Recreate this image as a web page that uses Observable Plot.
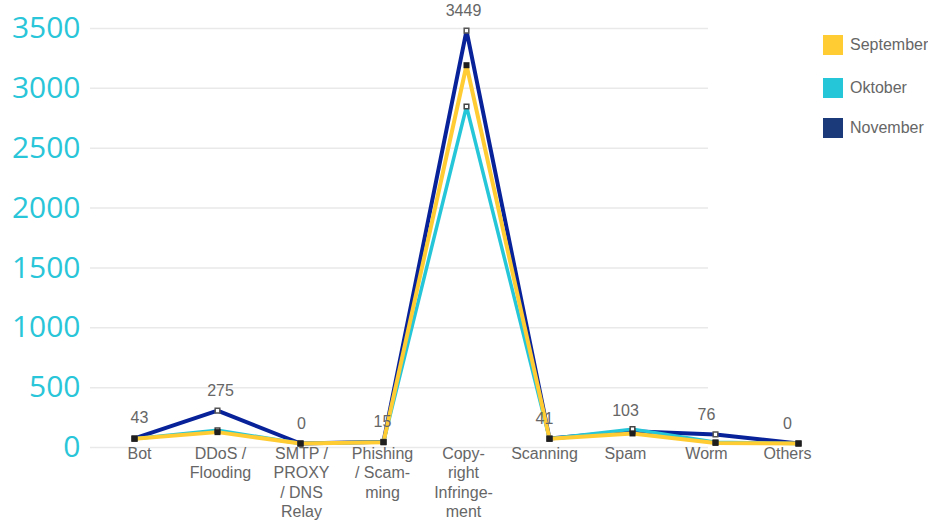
<!DOCTYPE html>
<html>
<head>
<meta charset="utf-8">
<script src="https://cdn.jsdelivr.net/npm/d3@7"></script>
<script src="https://cdn.jsdelivr.net/npm/@observablehq/plot@0.6"></script>
<style>
  html, body { margin: 0; padding: 0; background: #fff; }
  #wrap { position: relative; width: 928px; height: 520px; overflow: hidden; }
  #wrap svg { position: absolute; left: 0; top: 0; background: transparent; }
  #legend { position: absolute; left: 823px; top: 35px; font-family: "Liberation Sans", Arial, sans-serif; font-size: 16px; color: #666; }
  .item { position: absolute; left: 0; display: flex; align-items: center; white-space: nowrap; }
  .sw { width: 20px; height: 20px; margin-right: 7px; }
</style>
</head>
<body>
<div id="wrap"></div>
<script>
const categories = ["Bot", "DDoS /\nFlooding", "SMTP /\nPROXY\n/ DNS\nRelay", "Phishing\n/ Scam-\nming", "Copy-\nright\nInfringe-\nment", "Scanning", "Spam", "Worm", "Others"];
const series = ["September", "Oktober", "November"];
const september = [40, 95, 0, 10, 3160, 40, 84, 5, 0];
const oktober = [40, 110, 0, 12, 2815, 40, 120, 10, 0];
const november = [43, 275, 0, 15, 3449, 41, 103, 76, 0];
const novemberLabels = ["43", "275", "0", "15", "3449", "41", "103", "76", "0"];
const yTicks = [0, 500, 1000, 1500, 2000, 2500, 3000, 3500];
const lineColors = ["#FFCC33", "#26C6D9", "#08229A"];
const legendColors = ["#FFCC33", "#26C6D9", "#1B3A7A"];

const valuesBySeries = {September: september, Oktober: oktober, November: november};
const rows = series.flatMap(s => categories.map((c, i) => ({series: s, cat: c, value: valuesBySeries[s][i], label: s === "November" ? novemberLabels[i] : ""})));
const rowsOf = s => rows.filter(d => d.series === s);

const H = 520, MT = 28, MB = 73;
const yOpts = {domain: [0, 3500], range: [H - MB, MT]};
const font = "'Liberation Sans', Arial, sans-serif";

// grid layer (grid stops before the legend)
const grid = Plot.plot({
  width: 708, height: H,
  marginLeft: 90, marginRight: 0, marginTop: MT, marginBottom: MB,
  x: {axis: null},
  y: {...yOpts, axis: null},
  marks: [
    Plot.ruleY(yTicks, {stroke: "#e9e9e9", strokeWidth: 1.5})
  ]
});

const lineMark = (s, w) => Plot.line(rowsOf(s), {x: "cat", y: "value", stroke: lineColors[series.indexOf(s)], strokeWidth: w, dy: -4, strokeLinejoin: "miter", strokeLinecap: "butt"});

// lines and markers
const chart = Plot.plot({
  width: 928, height: H,
  marginLeft: 92, marginRight: 88, marginTop: MT, marginBottom: MB,
  style: {fontFamily: font, background: "transparent", overflow: "visible"},
  x: {domain: categories, type: "point", padding: 0.5, axis: null},
  y: yOpts,
  marks: [
    Plot.axisY(yTicks, {tickSize: 0, tickPadding: 12, fontSize: 30, fill: "#29C5D8", fontFamily: "'Open Sans', sans-serif", tickFormat: d => String(d), label: null}),
    lineMark("November", 4),
    lineMark("Oktober", 3.5),
    lineMark("September", 4),
    Plot.dot(rowsOf("November"), {x: "cat", y: "value", dy: -4, symbol: "square", r: 2.6, fill: "#fff", stroke: "#555", strokeWidth: 1.5}),
    Plot.dot(rowsOf("Oktober"), {x: "cat", y: "value", dy: -4, symbol: "square", r: 2.6, fill: "#fff", stroke: "#444", strokeWidth: 1.5}),
    Plot.dot(rowsOf("September"), {x: "cat", y: "value", dy: -4, symbol: "square", r: 3.4, fill: "#1e1e1e"})
  ]
});

// category axis and value labels (laid out on a slightly narrower band, as in the reference)
const labels = Plot.plot({
  width: 829, height: H,
  marginLeft: 97, marginRight: 0, marginTop: MT, marginBottom: MB,
  style: {fontFamily: font, background: "transparent", overflow: "visible"},
  x: {domain: categories, type: "point", padding: 0.5},
  y: {...yOpts, axis: null},
  marks: [
    Plot.axisX({tickSize: 0, tickPadding: -2, fontSize: 16, fill: "#666", lineHeight: 1.2, label: null}),
    Plot.text(rowsOf("November"), {x: "cat", y: "value", text: "label", dy: -24, fontSize: 16, fill: "#666"})
  ]
});

const wrap = document.getElementById("wrap");
wrap.appendChild(grid);
wrap.appendChild(chart);
wrap.appendChild(labels);

const legend = document.createElement("div");
legend.id = "legend";
const tops = [0, 43, 83];
series.forEach((s, i) => {
  const item = document.createElement("div");
  item.className = "item";
  item.style.top = tops[i] + "px";
  item.innerHTML = `<span class="sw" style="background:${legendColors[i]}"></span><span>${s}</span>`;
  legend.appendChild(item);
});
wrap.appendChild(legend);
</script>
</body>
</html>
